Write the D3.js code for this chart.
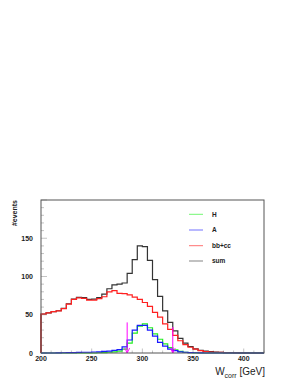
<!DOCTYPE html>
<html><head><meta charset="utf-8">
<script src="https://cdn.jsdelivr.net/npm/d3@7"></script>
<style>html,body{margin:0;padding:0;background:#fff;}svg{display:block;}</style>
</head><body>
<script>
// bin lower edges (GeV), width 5
const binLow = [200,205,210,215,220,225,230,235,240,245,250,255,260,265,270,275,280,285,290,295,
  300,305,310,315,320,325,330,335,340,345,350,355,360,365,370,375,380,385,390,395,400,405,410,415];
const binWidth = 5;
const seriesH = [0,0,0,0,0,0,0,0,0,0, 0,0.3,0.5,1,1.5,2.5,5,13,26,35,
  38,33,25,18,12,7,4,2,1,0.5, 0.2,0,0,0,0,0,0,0,0,0, 0,0,0,0];
const seriesA = [0,0,0,0.2,0.3,0.4,0.5,0.7,1,1, 1.3,1.5,2,2.5,3.5,4.5,8,17,30,36,
  36,30,22,14,9,5,3,1.5,1,0.5, 0.3,0.2,0,0,0,0,0,0,0,0, 0,0,0,0];
const seriesBBCC = [51,52.5,54,55,58,64,70,72,71.5,69, 69,71,73.5,80,81.5,78,77.5,76,73,70,
  66,61,53,47,38,31,23,16,11,7.5, 5,3,1.8,1.3,1,0.8,0.5,0.3,0.2,0.1, 0,0,0,0];
const seriesSum = [51,52.5,54,55.2,58.3,64.4,70.5,72.7,72.5,70, 70.3,72.5,77,84,89,90,91.5,104,122,140,
  139,121,96,74,55,40,29,19,13,8.5, 5.5,3.5,2.5,1.8,1.2,1,0.6,0.4,0.3,0.2, 0.1,0,0,0];
const legendLabels = ["H","A","bb+cc","sum"];
const legendColors = ["#00ee00","#0000ff","#ff0000","#222222"];
const xTicks = [200,250,300,350,400];
const yTicks = [0,50,100,150];
const arrowX = [285,330];
const arrowTop = [40,34];

const W = 300, H = 388;
const svg = d3.select("body").append("svg").attr("width",W).attr("height",H);
const x = d3.scaleLinear().domain([200,420]).range([41,264]);
const y = d3.scaleLinear().domain([0,200]).range([353,200]);
const font = "'Liberation Sans', Arial, Helvetica, sans-serif";

// ticks (inside frame)
const g = svg.append("g");
d3.range(200,421,10).forEach(v=>{
  const major = v%50===0;
  g.append("line").attr("x1",x(v)).attr("x2",x(v)).attr("y1",y(0)).attr("y2",y(0)-(major?4.5:2.5))
   .attr("stroke","#aaa").attr("stroke-width",0.7);
});
d3.range(0,201,10).forEach(v=>{
  const major = v%50===0;
  g.append("line").attr("x1",x(200)).attr("x2",x(200)+(major?6:3)).attr("y1",y(v)).attr("y2",y(v))
   .attr("stroke","#aaa").attr("stroke-width",0.7);
});

// histograms
function stepPath(vals){
  const pts = [[x(binLow[0]), y(0)]];
  vals.forEach((v,i)=>{ pts.push([x(binLow[i]), y(v)]); pts.push([x(binLow[i]+binWidth), y(v)]); });
  pts.push([x(binLow[binLow.length-1]+binWidth), y(0)]);
  return d3.line()(pts);
}
const hists = [[seriesSum,"#333333"],[seriesBBCC,"#ff2020"],[seriesH,"#22ee22"],[seriesA,"#1a1aff"]];
hists.forEach(([vals,c])=>{
  svg.append("path").attr("d",stepPath(vals)).attr("fill","none").attr("stroke",c).attr("stroke-width",1.2);
});

// arrows
arrowX.forEach((v,i)=>{
  const ax = x(v);
  svg.append("line").attr("x1",ax).attr("x2",ax).attr("y1",y(arrowTop[i])).attr("y2",y(0))
    .attr("stroke","#ff00ff").attr("stroke-width",1);
  svg.append("path").attr("d",`M${ax-2.5},${y(0)-5}L${ax},${y(0)}L${ax+2.5},${y(0)-5}`)
    .attr("fill","none").attr("stroke","#ff00ff").attr("stroke-width",0.9);
});

// frame
svg.append("rect").attr("x",x(200)).attr("y",y(200)).attr("width",x(420)-x(200)).attr("height",y(0)-y(200))
  .attr("fill","none").attr("stroke","#555").attr("stroke-width",1);

// tick labels
xTicks.forEach(v=>{
  svg.append("text").attr("x",x(v)).attr("y",360.5).attr("text-anchor","middle")
    .attr("font-family",font).attr("font-size",7).attr("font-weight","bold").attr("fill","#222").text(v);
});
yTicks.forEach(v=>{
  svg.append("text").attr("x",33).attr("y",y(v)+2.5).attr("text-anchor","end")
    .attr("font-family",font).attr("font-size",7).attr("font-weight","bold").attr("fill","#222").text(v);
});

// axis titles
svg.append("text").attr("transform","translate(16.5,200) rotate(-90)").attr("text-anchor","end")
  .attr("font-family",font).attr("font-size",7).attr("font-weight","bold").attr("fill","#222").text("#events");
const xt = svg.append("text").attr("x",265).attr("y",375).attr("text-anchor","end")
  .attr("font-family",font).attr("font-size",10).attr("fill","#222");
xt.append("tspan").text("W");
xt.append("tspan").attr("font-size",7).attr("dy",2.5).text("corr");
xt.append("tspan").attr("dy",-2.5).text(" [GeV]");

// legend
const legY = [214.3, 230, 245.7, 261];
legendLabels.forEach((lab,i)=>{
  svg.append("line").attr("x1",189).attr("x2",203).attr("y1",legY[i]).attr("y2",legY[i])
    .attr("stroke",legendColors[i]).attr("stroke-width",0.8).attr("stroke-opacity",0.7);
  svg.append("text").attr("x",212).attr("y",legY[i]+2.3).attr("font-family",font).attr("font-size",6.5)
    .attr("font-weight","bold").attr("fill","#222").text(lab);
});
</script>
</body></html>
